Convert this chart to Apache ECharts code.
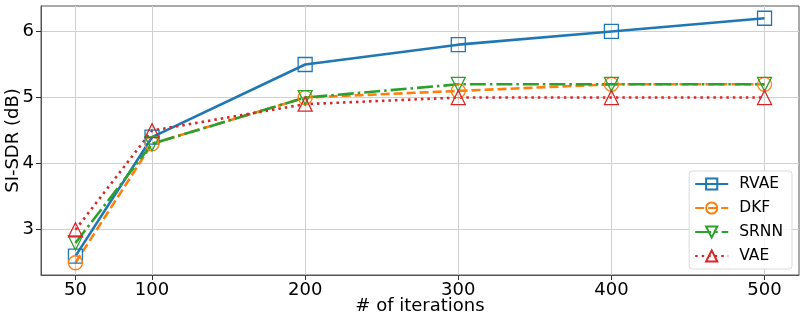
<!DOCTYPE html>
<html>
<head>
<meta charset="utf-8">
<script src="https://cdn.jsdelivr.net/npm/echarts@6/dist/echarts.min.js"></script>
<style>
  html, body { margin: 0; padding: 0; background: #fff; }
  #chart { width: 806px; height: 322px; }
</style>
</head>
<body>
<div id="chart"></div>
<script>
const iterations = [50, 100, 200, 300, 400, 500];
const xTicks = [50, 100, 200, 300, 400, 500];
const yTicks = [3, 4, 5, 6];

const rvae = [2.6, 4.4, 5.5, 5.8, 6.0, 6.2];
const dkf = [2.5, 4.3, 5.0, 5.1, 5.2, 5.2];
const srnn = [2.8, 4.3, 5.0, 5.2, 5.2, 5.2];
const vae = [3.0, 4.5, 4.9, 5.0, 5.0, 5.0];

const font = "DejaVu Sans";
const lw = 2.6;

const makeSeries = (name, values, color, dash, symbol, rotate) => ({
  name: name,
  type: "line",
  data: iterations.map((x, i) => [x, values[i]]),
  symbol: symbol,
  symbolSize: 14,
  symbolRotate: rotate || 0,
  lineStyle: { color: color, width: lw, type: dash },
  itemStyle: { color: "rgba(0,0,0,0)", borderColor: color, borderWidth: 1.3 },
  emphasis: { disabled: true },
  animation: false,
});

const chart = echarts.init(document.getElementById("chart"));

chart.setOption({
  animation: false,
  grid: {
    left: 41,
    right: 7,
    top: 6,
    bottom: 47,
    containLabel: false,
    outerBoundsMode: "none",
    show: true,
    borderColor: "#555",
    borderWidth: 1,
  },
  legend: {
    orient: "vertical",
    right: 14,
    top: 171,
    itemWidth: 33,
    itemHeight: 14,
    itemGap: 8,
    padding: [5, 9, 5, 5],
    backgroundColor: "rgba(255,255,255,0.85)",
    borderColor: "#d9d9d9",
    borderWidth: 1,
    borderRadius: 3,
    textStyle: { fontFamily: font, fontSize: 15.5, color: "#000", padding: [0, 0, 0, 6] },
    data: ["RVAE", "DKF", "SRNN", "VAE"],
  },
  xAxis: {
    type: "value",
    min: 27.5,
    max: 522.5,
    name: "# of iterations",
    nameLocation: "middle",
    nameGap: 22,
    nameMoveOverlap: false,
    nameTextStyle: { fontFamily: font, fontSize: 18, color: "#000" },
    axisLine: { show: true, lineStyle: { color: "#555" } },
    axisTick: { show: true, customValues: xTicks, length: 5, lineStyle: { color: "#333" } },
    axisLabel: { customValues: xTicks, fontFamily: font, fontSize: 18, color: "#000", margin: 6 },
    splitLine: { show: true, customValues: xTicks, lineStyle: { color: "#d0d0d0", width: 1 } },
  },
  yAxis: {
    type: "value",
    min: 2.315,
    max: 6.385,
    name: "SI-SDR (dB)",
    nameLocation: "middle",
    nameGap: 19,
    nameMoveOverlap: false,
    nameTextStyle: { fontFamily: font, fontSize: 18, color: "#000" },
    axisLine: { show: true, lineStyle: { color: "#555" } },
    axisTick: { show: true, customValues: yTicks, length: 5, lineStyle: { color: "#333" } },
    axisLabel: { customValues: yTicks, fontFamily: font, fontSize: 18, color: "#000", margin: 7 },
    splitLine: { show: true, customValues: yTicks, lineStyle: { color: "#d0d0d0", width: 1 } },
  },
  series: [
    makeSeries("RVAE", rvae, "#1f77b4", "solid", "rect"),
    makeSeries("DKF", dkf, "#ff7f0e", [9, 4], "circle"),
    makeSeries("SRNN", srnn, "#2ca02c", [16, 4, 2.5, 4], "triangle", 180),
    makeSeries("VAE", vae, "#d62728", [2.5, 4], "triangle"),
  ],
});
</script>
</body>
</html>
